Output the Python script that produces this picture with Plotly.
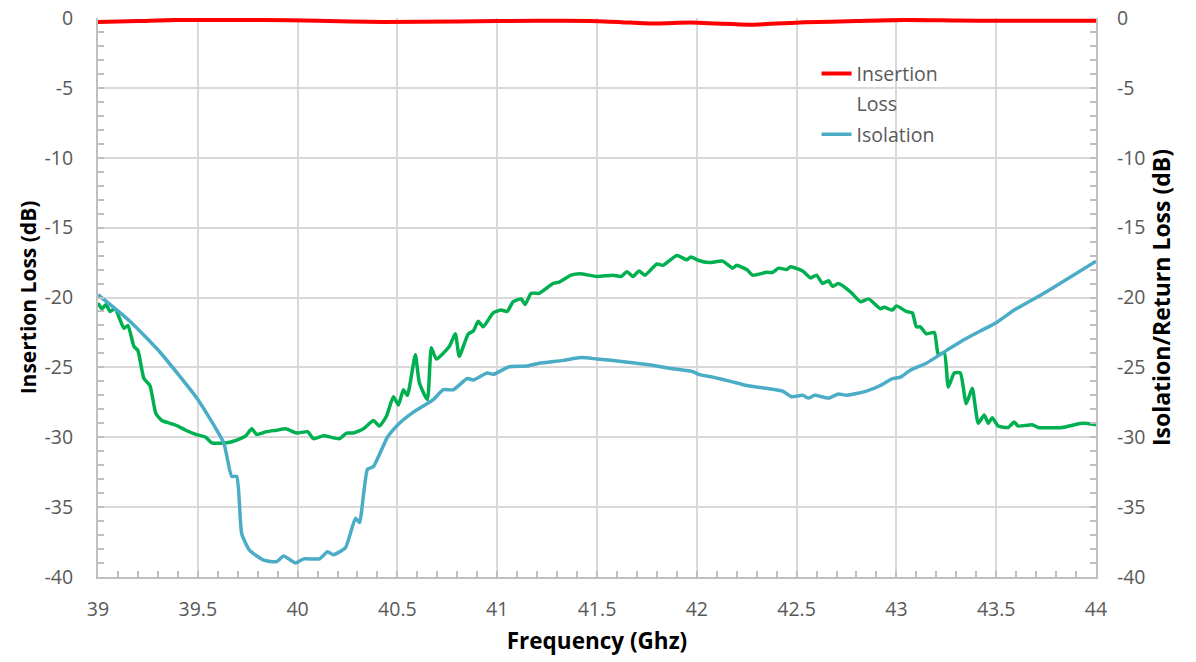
import plotly.graph_objects as go

# ---------------- data ----------------
il_freq = [39.0, 39.2, 39.39, 39.6, 39.82, 40.1, 40.43, 40.8, 41.2, 41.47, 41.62, 41.78, 41.97, 42.1, 42.26, 42.4, 42.54, 42.8, 43.04, 43.3, 43.5, 43.75, 44.0]
il_db = [-0.29, -0.22, -0.14, -0.15, -0.14, -0.2, -0.29, -0.25, -0.2, -0.22, -0.3, -0.4, -0.33, -0.4, -0.48, -0.4, -0.31, -0.22, -0.14, -0.18, -0.2, -0.2, -0.2]

iso_freq = [39.0, 39.16, 39.31, 39.49, 39.545, 39.63, 39.67, 39.695, 39.72, 39.76, 39.83, 39.895, 39.93, 39.99, 40.03, 40.11, 40.15, 40.18, 40.24, 40.29, 40.31, 40.35, 40.38, 40.45, 40.51, 40.58, 40.68, 40.73, 40.78, 40.85, 40.88, 40.95, 40.98, 41.06, 41.15, 41.21, 41.33, 41.42, 41.5, 41.58, 41.75, 41.88, 41.98, 42.01, 42.08, 42.17, 42.25, 42.35, 42.43, 42.475, 42.53, 42.56, 42.59, 42.66, 42.71, 42.75, 42.85, 42.92, 42.98, 43.02, 43.07, 43.15, 43.25, 43.34, 43.42, 43.5, 43.59, 43.75, 44.0]
iso_db = [-19.8, -21.7, -23.9, -27.1, -28.3, -30.4, -32.8, -32.8, -36.9, -38.1, -38.8, -38.9, -38.5, -39.0, -38.7, -38.7, -38.2, -38.4, -37.9, -35.8, -36.1, -32.3, -32.1, -30.0, -29.0, -28.2, -27.3, -26.6, -26.6, -25.8, -25.9, -25.4, -25.5, -24.95, -24.9, -24.7, -24.5, -24.3, -24.4, -24.5, -24.8, -25.1, -25.3, -25.5, -25.7, -26.0, -26.3, -26.5, -26.7, -27.1, -27.0, -27.2, -27.0, -27.2, -26.9, -27.0, -26.7, -26.3, -25.8, -25.7, -25.2, -24.7, -23.8, -23.0, -22.4, -21.8, -20.9, -19.6, -17.4]

rl_freq = [39.0, 39.02, 39.04, 39.06, 39.085, 39.13, 39.15, 39.18, 39.2, 39.23, 39.26, 39.29, 39.32, 39.36, 39.4, 39.44, 39.49, 39.54, 39.57, 39.645, 39.695, 39.74, 39.77, 39.795, 39.845, 39.895, 39.94, 39.995, 40.05, 40.08, 40.13, 40.21, 40.245, 40.28, 40.33, 40.38, 40.41, 40.445, 40.48, 40.505, 40.53, 40.55, 40.59, 40.61, 40.65, 40.67, 40.695, 40.76, 40.79, 40.81, 40.855, 40.88, 40.905, 40.93, 40.98, 41.02, 41.05, 41.08, 41.12, 41.14, 41.17, 41.21, 41.25, 41.28, 41.31, 41.37, 41.415, 41.5, 41.58, 41.62, 41.65, 41.68, 41.71, 41.74, 41.8, 41.83, 41.9, 41.95, 41.97, 42.01, 42.06, 42.13, 42.18, 42.2, 42.25, 42.28, 42.35, 42.38, 42.41, 42.45, 42.47, 42.53, 42.57, 42.6, 42.63, 42.66, 42.68, 42.71, 42.77, 42.82, 42.86, 42.92, 42.94, 42.98, 43.0, 43.05, 43.08, 43.1, 43.12, 43.15, 43.19, 43.21, 43.24, 43.26, 43.29, 43.32, 43.35, 43.38, 43.41, 43.44, 43.46, 43.48, 43.51, 43.56, 43.59, 43.61, 43.68, 43.71, 43.83, 43.93, 44.0]
rl_db = [-20.4, -20.8, -20.5, -21.0, -20.8, -22.2, -22.0, -23.5, -23.8, -25.8, -26.3, -28.3, -28.8, -29.0, -29.2, -29.5, -29.8, -30.0, -30.4, -30.4, -30.2, -29.9, -29.4, -29.8, -29.6, -29.5, -29.4, -29.7, -29.6, -30.1, -29.9, -30.1, -29.7, -29.7, -29.4, -28.8, -29.2, -28.5, -27.1, -27.7, -26.6, -27.0, -24.1, -26.1, -27.3, -23.6, -24.4, -23.5, -22.6, -24.2, -22.6, -22.4, -21.7, -22.1, -21.1, -20.9, -21.0, -20.3, -20.1, -20.5, -19.7, -19.7, -19.3, -19.0, -18.9, -18.4, -18.3, -18.5, -18.4, -18.5, -18.15, -18.5, -18.1, -18.4, -17.6, -17.7, -17.0, -17.3, -17.1, -17.35, -17.5, -17.4, -17.9, -17.7, -18.0, -18.4, -18.2, -18.2, -17.9, -18.0, -17.8, -18.1, -18.6, -18.4, -19.0, -18.8, -19.2, -19.0, -19.6, -20.3, -20.1, -20.8, -20.7, -20.9, -20.6, -21.0, -21.1, -22.1, -22.1, -22.6, -22.5, -24.1, -23.95, -26.4, -25.4, -25.4, -27.6, -26.5, -29.0, -28.4, -29.0, -28.6, -29.2, -29.3, -28.9, -29.2, -29.1, -29.3, -29.3, -29.0, -29.1]

y_tickvals = [0, -5, -10, -15, -20, -25, -30, -35, -40]
y_ticktext = ["0", "-5", "-10", "-15", "-20", "-25", "-30", "-35", "-40"]
x_tickvals = [39, 39.5, 40, 40.5, 41, 41.5, 42, 42.5, 43, 43.5, 44]
x_ticktext = ["39", "39.5", "40", "40.5", "41", "41.5", "42", "42.5", "43", "43.5", "44"]

# ---------------- figure ----------------
FONT = "Open Sans"
TICKC = "#595959"
GRID = "#d9d9d9"
AXC = "#bfbfbf"
TFS = 19.5

fig = go.Figure()
fig.add_trace(go.Scatter(x=rl_freq, y=rl_db, mode="lines", name="Return Loss",
                         showlegend=False, yaxis="y2",
                         line=dict(color="#00b050", width=3.5, shape="spline", smoothing=0.5)))
fig.add_trace(go.Scatter(x=iso_freq, y=iso_db, mode="lines", name="Isolation",
                         yaxis="y2", legendrank=3, legendgroup="c",
                         line=dict(color="#4bacc6", width=3.5, shape="spline", smoothing=0.5)))
fig.add_trace(go.Scatter(x=il_freq, y=il_db, mode="lines", name="Insertion",
                         legendrank=1, legendgroup="a",
                         line=dict(color="#ff0000", width=4, shape="spline", smoothing=0.6)))
# second line of the wrapped legend label "Insertion Loss"
fig.add_trace(go.Scatter(x=[None], y=[None], mode="lines", name="Loss",
                         legendrank=2, legendgroup="b", hoverinfo="skip",
                         line=dict(color="rgba(0,0,0,0)", width=0)))

def yax(standoff):
    return dict(range=[-40, 0], tickmode="array", tickvals=y_tickvals, ticktext=y_ticktext,
                tickfont=dict(family=FONT, size=TFS, color=TICKC),
                showline=True, linecolor=AXC, linewidth=2,
                ticks="inside", ticklen=6, tickcolor=AXC, tickwidth=2,
                minor=dict(dtick=1, ticks="inside", ticklen=6, tickcolor=AXC, tickwidth=2, showgrid=False),
                zeroline=False, ticklabelstandoff=standoff, automargin=False,
                ticklabeloverflow="allow")

fig.update_layout(
    width=1196, height=662,
    margin=dict(l=98, r=100, t=18, b=85),
    plot_bgcolor="white", paper_bgcolor="white",
    font=dict(family=FONT, size=TFS, color=TICKC),
    xaxis=dict(range=[39, 44], tickmode="array", tickvals=x_tickvals, ticktext=x_ticktext,
               tickfont=dict(family=FONT, size=TFS, color=TICKC),
               showgrid=True, gridcolor=GRID, gridwidth=2,
               showline=True, linecolor=AXC, linewidth=2,
               ticks="inside", ticklen=6, tickcolor=AXC, tickwidth=2,
               minor=dict(dtick=0.1, ticks="inside", ticklen=6, tickcolor=AXC, tickwidth=2, showgrid=False),
               zeroline=False, ticklabelstandoff=14, automargin=False, ticklabeloverflow="allow",
               title=dict(text="<b>Frequency (Ghz)</b>",
                          font=dict(family=FONT, size=22.5, color="black"), standoff=12)),
    yaxis=dict(**yax(19), showgrid=True, gridcolor=GRID, gridwidth=2,
               title=dict(text="<b>Insertion Loss (dB)</b>",
                          font=dict(family=FONT, size=21, color="black"), standoff=2)),
    yaxis2=dict(**yax(15), overlaying="y", side="right", showgrid=False,
                title=dict(text="<b>Isolation/Return Loss (dB)</b>",
                           font=dict(family=FONT, size=23, color="black"), standoff=6)),
    legend=dict(x=0.72, y=0.935, xanchor="left", yanchor="top",
                bgcolor="rgba(0,0,0,0)", font=dict(family=FONT, size=TFS, color=TICKC),
                tracegroupgap=2),
)

# place the figure flush with the page corner (no default body margin); no toolbar
fig.write_html("out.html", config={"displayModeBar": False},
               post_script="document.body.style.margin='0';")
